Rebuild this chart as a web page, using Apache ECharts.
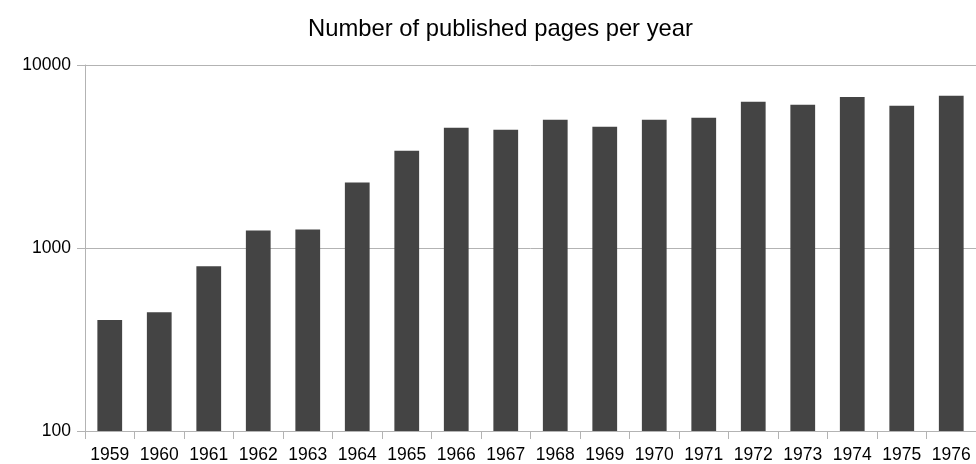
<!DOCTYPE html>
<html>
<head>
<meta charset="utf-8">
<script src="https://cdn.jsdelivr.net/npm/echarts@6/dist/echarts.min.js"></script>
<style>
html,body{margin:0;padding:0;background:#fff;}
#chart{width:976px;height:464px;}
</style>
</head>
<body>
<div id="chart"></div>
<script>
const titleText = "Number of published pages per year";
const years = ["1959","1960","1961","1962","1963","1964","1965","1966","1967","1968","1969","1970","1971","1972","1973","1974","1975","1976"];
const pages = [404, 446, 794, 1248, 1264, 2278, 3402, 4540, 4427, 5018, 4597, 5018, 5145, 6289, 6056, 6696, 5981, 6781];

const chart = echarts.init(document.getElementById('chart'), null, {renderer: 'canvas'});
const font = 'Liberation Sans';
chart.setOption({
  animation: false,
  backgroundColor: '#ffffff',
  title: {
    text: titleText,
    left: 308,
    top: 17,
    padding: 0,
    textStyle: {fontFamily: font, fontSize: 23.8, fontWeight: 'normal', color: '#000'}
  },
  grid: {left: 85, top: 65, width: 896.5, height: 367.3, containLabel: false},
  xAxis: {
    type: 'category',
    data: years,
    boundaryGap: true,
    axisLine: {show: true, lineStyle: {color: '#b3b3b3', width: 1}},
    axisTick: {show: true, alignWithLabel: false, length: 8, lineStyle: {color: '#b3b3b3'}},
    axisLabel: {fontFamily: font, fontSize: 17.5, color: '#000', margin: 15, interval: 0},
    splitLine: {show: false}
  },
  yAxis: {
    type: 'log',
    logBase: 10,
    min: 100,
    max: 10000,
    axisLine: {show: true, lineStyle: {color: '#b3b3b3', width: 1}},
    axisTick: {show: true, length: 8, lineStyle: {color: '#b3b3b3'}},
    axisLabel: {fontFamily: font, fontSize: 17.5, color: '#000', margin: 14, formatter: function (v) { return String(Math.round(v)); }},
    splitLine: {show: true, lineStyle: {color: '#b3b3b3', width: 1}},
    minorTick: {show: false}
  },
  series: [{
    type: 'bar',
    data: pages,
    barCategoryGap: '50%',
    itemStyle: {color: '#444444'}
  }]
});
</script>
</body>
</html>
